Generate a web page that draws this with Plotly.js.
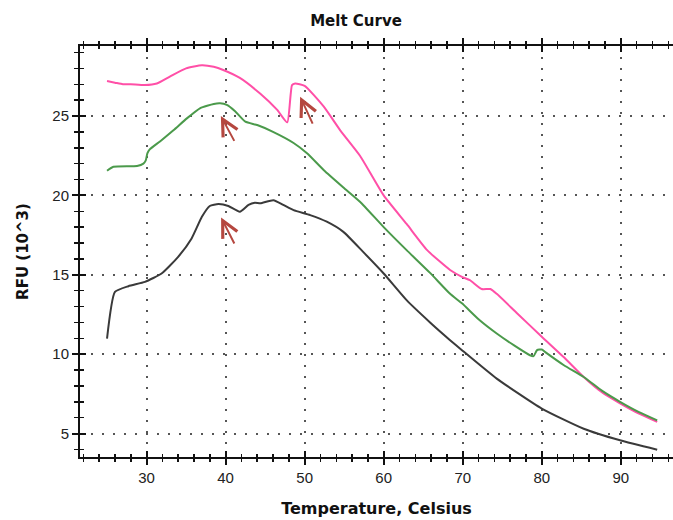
<!DOCTYPE html>
<html>
<head>
<meta charset="utf-8">
<script src="https://cdn.plot.ly/plotly-3.0.1.min.js"></script>
<style>
html,body{margin:0;padding:0;background:#fff;}
#chart{width:673px;height:520px;}
</style>
</head>
<body>
<div id="chart"></div>
<script>
// ---- data (Temperature °C, RFU x10^3) ----
var pinkT = [25, 26, 27, 28, 29.8, 31.3, 33, 35, 37, 38.5, 39.7, 41.8, 44.4, 46.5, 47.8, 48.4, 48.8, 50.0, 52.4, 54.5, 57.0, 60.0, 62.9, 65.5, 68.4, 69.9, 70.9, 72.4, 73.5, 74.3, 76.9, 80.0, 82.8, 85.3, 87.6, 89.9, 92.3, 94.6];
var pinkV = [27.2, 27.1, 27.0, 27.0, 26.95, 27.05, 27.5, 28.0, 28.2, 28.1, 27.9, 27.4, 26.4, 25.4, 24.6, 26.95, 27.05, 26.9, 25.6, 24.1, 22.5, 20.0, 18.2, 16.55, 15.3, 14.87, 14.66, 14.1, 14.1, 13.8, 12.56, 11.1, 9.8, 8.56, 7.6, 6.9, 6.25, 5.73];

var greenT = [25, 25.8, 28.8, 29.6, 29.9, 30.1, 30.4, 31.7, 33.4, 35.1, 36.8, 38.5, 39.3, 40.15, 41.2, 42.5, 44.0, 46.0, 48.6, 50.3, 52.4, 54.9, 57.0, 60.0, 62.9, 65.9, 68.4, 69.9, 72.0, 74.3, 76.5, 78.5, 78.96, 79.4, 80.0, 80.4, 82.8, 85.3, 87.6, 89.9, 92.3, 94.6];
var greenV = [21.55, 21.8, 21.85, 22.0, 22.2, 22.65, 22.9, 23.4, 24.1, 24.85, 25.5, 25.76, 25.8, 25.7, 25.3, 24.64, 24.43, 24.0, 23.3, 22.65, 21.6, 20.5, 19.6, 18.0, 16.55, 15.1, 13.8, 13.2, 12.2, 11.3, 10.55, 9.93, 9.87, 10.25, 10.29, 10.14, 9.3, 8.56, 7.7, 7.0, 6.35, 5.83];

var blackT = [25, 26, 27.7, 29.8, 31.9, 34.0, 35.7, 37.0, 38.0, 39.1, 40.35, 41.8, 42.9, 43.7, 44.4, 46.05, 47.3, 48.6, 50.7, 52.8, 54.9, 57.4, 60.0, 62.9, 65.9, 68.4, 69.9, 74.3, 80.0, 85.3, 89.9, 94.6];
var blackV = [10.98, 13.92, 14.28, 14.55, 15.08, 16.13, 17.29, 18.65, 19.33, 19.45, 19.33, 18.97, 19.4, 19.53, 19.5, 19.7, 19.4, 19.07, 18.76, 18.34, 17.7, 16.44, 15.08, 13.4, 11.98, 10.88, 10.25, 8.46, 6.57, 5.3, 4.57, 3.98];

// arrows: tip (x,y) and tail (ax,ay) in data units
var arrowTipT  = [39.4, 49.43, 39.43];
var arrowTipV  = [25.0, 26.22, 18.61];
var arrowTailT = [41.2, 51.1, 41.2];
var arrowTailV = [23.34, 24.43, 16.87];

var xTickVals = [30, 40, 50, 60, 70, 80, 90];
var yTickVals = [5, 10, 15, 20, 25];

var xRange = [21.58, 96.6];
var yRange = [3.52, 29.41];

var lineStyle = function (c) { return {color: c, width: 2, shape: 'spline', smoothing: 0.5}; };

var traces = [
  {x: pinkT, y: pinkV, type: 'scatter', mode: 'lines', line: lineStyle('#ff4fa7'), hoverinfo: 'skip'},
  {x: greenT, y: greenV, type: 'scatter', mode: 'lines', line: lineStyle('#4b9a4b'), hoverinfo: 'skip'},
  {x: blackT, y: blackV, type: 'scatter', mode: 'lines', line: lineStyle('#3a3a3a'), hoverinfo: 'skip'},
  {x: [], y: [], xaxis: 'x2', yaxis: 'y2', type: 'scatter', mode: 'lines', hoverinfo: 'skip'}
];

var annotations = [];
for (var i = 0; i < arrowTipT.length; i++) {
  annotations.push({
    x: arrowTipT[i], y: arrowTipV[i], ax: arrowTailT[i], ay: arrowTailV[i],
    xref: 'x', yref: 'y', axref: 'x', ayref: 'y',
    text: '', showarrow: true, arrowhead: 5, arrowsize: 1.6, arrowwidth: 2,
    arrowcolor: '#b5473f'
  });
}

var fontFam = 'Liberation Sans, Arial, sans-serif';
var titleFam = 'DejaVu Sans, Verdana, sans-serif';

var layout = {
  width: 673, height: 520,
  margin: {l: 80, r: 0, t: 46, b: 63, pad: 0},
  paper_bgcolor: '#ffffff', plot_bgcolor: '#ffffff',
  showlegend: false,
  font: {family: fontFam, color: '#222', size: 15},
  title: {text: '<b>Melt Curve</b>', font: {family: titleFam, size: 15, color: '#111'},
          x: 0.529, xanchor: 'center', y: 0.96, yanchor: 'middle'},
  xaxis: {
    range: xRange, tickvals: xTickVals, ticktext: xTickVals.map(String),
    showline: true, linecolor: '#111', linewidth: 2, mirror: 'ticks',
    ticks: 'outside', ticklen: 6, tickwidth: 2, tickcolor: '#111',
    minor: {dtick: 2, tick0: 0, ticks: 'outside', ticklen: 3, tickwidth: 1.5, tickcolor: '#111', showgrid: false},
    showgrid: true, gridcolor: '#555', gridwidth: 2, griddash: '2px,9px',
    zeroline: false, tickfont: {size: 15, color: '#222'},
    title: {text: '<b>Temperature, Celsius</b>', font: {family: titleFam, size: 16, color: '#111'}, standoff: 18}
  },
  yaxis: {
    range: yRange, tickvals: yTickVals, ticktext: yTickVals.map(String),
    showline: true, linecolor: '#111', linewidth: 2, mirror: false,
    ticks: 'outside', ticklen: 6, tickwidth: 2, tickcolor: '#111',
    minor: {dtick: 1, tick0: 0, ticks: 'outside', ticklen: 4, tickwidth: 1.5, tickcolor: '#111', showgrid: false},
    showgrid: true, gridcolor: '#555', gridwidth: 2, griddash: '2px,9px',
    zeroline: false, tickfont: {size: 15, color: '#222'},
    title: {text: '<b>RFU (10^3)</b>', font: {family: titleFam, size: 15, color: '#111'}, standoff: 20}
  },
  xaxis2: {
    overlaying: 'x', anchor: 'y2', range: xRange, tickvals: xTickVals,
    showticklabels: false, showgrid: false, zeroline: false, showline: false,
    mirror: 'ticks', ticks: 'inside', ticklen: 6, tickwidth: 2, tickcolor: '#111',
    minor: {dtick: 2, tick0: 0, ticks: 'inside', ticklen: 3, tickwidth: 1.5, tickcolor: '#111', showgrid: false}
  },
  yaxis2: {
    overlaying: 'y', anchor: 'x2', range: yRange, tickvals: yTickVals,
    showticklabels: false, showgrid: false, zeroline: false, showline: false,
    ticks: 'inside', ticklen: 6, tickwidth: 2, tickcolor: '#111',
    minor: {dtick: 1, tick0: 0, ticks: 'inside', ticklen: 4, tickwidth: 1.5, tickcolor: '#111', showgrid: false}
  },
  annotations: annotations
};

Plotly.newPlot('chart', traces, layout, {staticPlot: true, displayModeBar: false});
</script>
</body>
</html>
